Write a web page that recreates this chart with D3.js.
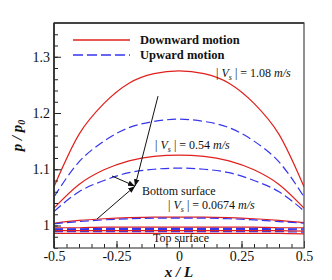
<!DOCTYPE html>
<html><head><meta charset="utf-8">
<script src="https://cdn.jsdelivr.net/npm/d3@7"></script>
<style>body{margin:0;background:#fff}svg{display:block}</style>
</head><body>
<script>
const xs = [-0.5,-0.4,-0.3,-0.2,-0.1,0,0.1,0.2,0.3,0.4,0.5];
// bottom surface, downward (red) / upward (blue)
const down108 = [1.069,1.162,1.217,1.253,1.270,1.275,1.270,1.253,1.217,1.162,1.069];
const up108   = [1.051,1.113,1.150,1.174,1.185,1.189,1.185,1.174,1.150,1.113,1.051];
const down054 = [1.031,1.073,1.099,1.115,1.123,1.125,1.123,1.115,1.099,1.073,1.031];
const up054   = [1.025,1.060,1.080,1.094,1.100,1.102,1.100,1.094,1.080,1.060,1.026];
const down0674= [1.004,1.009,1.012,1.014,1.015,1.015,1.015,1.014,1.012,1.009,1.005];
const up0674  = [1.003,1.007,1.010,1.012,1.013,1.013,1.013,1.012,1.010,1.007,1.004];
// top surface
const downTop108 = [0.986,0.986,0.986,0.986,0.986,0.986,0.986,0.986,0.986,0.986,0.985];
const upTop108   = [0.989,0.989,0.989,0.989,0.989,0.989,0.989,0.989,0.989,0.989,0.988];
const downTop054 = [0.991,0.991,0.991,0.991,0.991,0.991,0.991,0.991,0.991,0.991,0.990];
const upTop054   = [0.993,0.993,0.993,0.993,0.993,0.993,0.993,0.993,0.993,0.993,0.992];
const downTop0674= [0.996,0.996,0.997,0.997,0.997,0.997,0.997,0.997,0.997,0.996,0.996];
const upTop0674  = [0.994,0.994,0.995,0.995,0.995,0.995,0.995,0.995,0.995,0.994,0.994];
const xTicks = [-0.5,-0.25,0,0.25,0.5];
const xTickLabels = ["-0.5","-0.25","0","0.25","0.5"];
const yTicks = [1,1.1,1.2,1.3];
const yTickLabels = ["1","1.1","1.2","1.3"];
const legendLabels = ["Downward motion","Upward motion"];
// annotation arrows (data coords): start points, common tip
const arrowStarts = [[-0.084,1.230],[-0.268,1.088],[-0.328,1.0116]];
const arrowTip = [-0.176,1.070];

const W=332,H=280;
const m={l:54,t:23,r:28,b:32};
const svg=d3.select("body").append("svg").attr("width",W).attr("height",H);
const x=d3.scaleLinear().domain([-0.5,0.5]).range([m.l,W-m.r]);
const y=d3.scaleLinear().domain([0.96,1.36]).range([H-m.b,m.t]);
const RED="#e0201c", BLUE="#3535ee";
const serif="'Liberation Serif','Times New Roman',serif";

svg.append("defs").append("clipPath").attr("id","clip").append("rect")
  .attr("x",m.l).attr("y",m.t).attr("width",x.range()[1]-m.l).attr("height",y.range()[0]-m.t);

const line=d3.line().x((d,i)=>x(xs[i])).y(d=>y(d)).curve(d3.curveMonotoneX);
const g=svg.append("g").attr("clip-path","url(#clip)");
const series=[
 [downTop108,RED,false],[upTop108,BLUE,true],
 [downTop054,RED,false],[upTop054,BLUE,true],
 [downTop0674,RED,false],[upTop0674,BLUE,true],
 [down108,RED,false],[up108,BLUE,true],
 [down054,RED,false],[up054,BLUE,true],
 [down0674,RED,false],[up0674,BLUE,true]];
series.forEach(([d,c,dash])=>{
  g.append("path").attr("d",line(d)).attr("fill","none").attr("stroke",c)
   .attr("stroke-width",1.2).attr("stroke-dasharray",dash?"9,4":null);
});

// axes
const xAxis=d3.axisBottom(x).tickValues(xTicks).tickFormat((d,i)=>xTickLabels[i]).tickSize(-7).tickPadding(3);
const xMinor=d3.axisBottom(x).tickValues(d3.range(-0.5,0.5001,0.05)).tickFormat("").tickSize(-4);
const yAxis=d3.axisLeft(y).tickValues(yTicks).tickFormat((d,i)=>yTickLabels[i]).tickSize(-7).tickPadding(4);
const yMinor=d3.axisLeft(y).tickValues(d3.range(0.96,1.3601,0.02)).tickFormat("").tickSize(-4);
function style(sel){sel.select(".domain").remove();sel.selectAll("line").attr("stroke","#222").attr("stroke-width",1);
  sel.selectAll("text").attr("font-family",serif).attr("font-size",14).attr("fill","#111");}
svg.append("g").attr("transform",`translate(0,${y.range()[0]})`).call(xMinor).call(style);
svg.append("g").attr("transform",`translate(0,${y.range()[0]})`).call(xAxis).call(style);
svg.append("g").attr("transform",`translate(${m.l},0)`).call(yMinor).call(style);
svg.append("g").attr("transform",`translate(${m.l},0)`).call(yAxis).call(style);

// frame
svg.append("rect").attr("x",m.l).attr("y",m.t).attr("width",x.range()[1]-m.l).attr("height",y.range()[0]-m.t)
  .attr("fill","none").attr("stroke","#555").attr("stroke-width",1.3);
svg.append("line").attr("x1",m.l).attr("x2",x.range()[1]).attr("y1",m.t).attr("y2",m.t).attr("stroke","#444").attr("stroke-width",2);
svg.append("line").attr("x1",m.l).attr("x2",m.l).attr("y1",m.t).attr("y2",y.range()[0]).attr("stroke","#222").attr("stroke-width",1.5);

// legend
const lg=svg.append("g");
[[RED,false],[BLUE,true]].forEach(([c,dash],i)=>{
  const yy=40+i*15;
  lg.append("line").attr("x1",73).attr("x2",130).attr("y1",yy).attr("y2",yy).attr("stroke",c)
    .attr("stroke-width",1.3).attr("stroke-dasharray",dash?"10,4":null);
  lg.append("text").attr("x",140).attr("y",yy+4).text(legendLabels[i]).attr("font-family",serif)
    .attr("font-weight","bold").attr("font-size",12.5).attr("fill","#111");
});

// annotations
const defs=svg.select("defs");
defs.append("marker").attr("id","ah").attr("viewBox","0 0 10 10").attr("refX",10).attr("refY",5)
  .attr("markerWidth",7).attr("markerHeight",7).attr("orient","auto")
  .append("path").attr("d","M0,1 L10,5 L0,9 z").attr("fill","#111");
arrowStarts.forEach(s=>{
  svg.append("line").attr("x1",x(s[0])).attr("y1",y(s[1])).attr("x2",x(arrowTip[0])).attr("y2",y(arrowTip[1]))
    .attr("stroke","#111").attr("stroke-width",1).attr("marker-end","url(#ah)");
});
function vsLabel(px,py,val){
  const t=svg.append("text").attr("x",px).attr("y",py).attr("font-family",serif).attr("font-size",12).attr("fill","#111");
  t.append("tspan").text("| ");
  t.append("tspan").attr("font-style","italic").text("V");
  t.append("tspan").attr("font-style","italic").attr("font-size",8).attr("dy",3).text("s");
  t.append("tspan").attr("dy",-3).text(" | = "+val+" ");
  t.append("tspan").attr("font-style","italic").text("m/s");
}
vsLabel(216,77,"1.08");
vsLabel(155,149,"0.54");
vsLabel(168,209,"0.0674");
svg.append("text").attr("x",142).attr("y",195).text("Bottom surface").attr("font-family",serif).attr("font-size",12).attr("fill","#111");
svg.append("text").attr("x",153).attr("y",242).text("Top surface").attr("font-family",serif).attr("font-size",12).attr("fill","#111");

// axis titles
const xt=svg.append("text").attr("x",x(0)).attr("y",277).attr("text-anchor","middle").attr("font-family",serif)
  .attr("font-weight","bold").attr("font-style","italic").attr("font-size",15).attr("fill","#111");
xt.append("tspan").text("x / L");
const yt=svg.append("text").attr("transform",`translate(22,${(m.t+y.range()[0])/2}) rotate(-90)`).attr("text-anchor","middle")
  .attr("font-family",serif).attr("font-weight","bold").attr("font-style","italic").attr("font-size",15).attr("fill","#111");
yt.append("tspan").text("p / p");
yt.append("tspan").attr("font-size",10).attr("dy",3).text("0");
</script>
</body></html>
